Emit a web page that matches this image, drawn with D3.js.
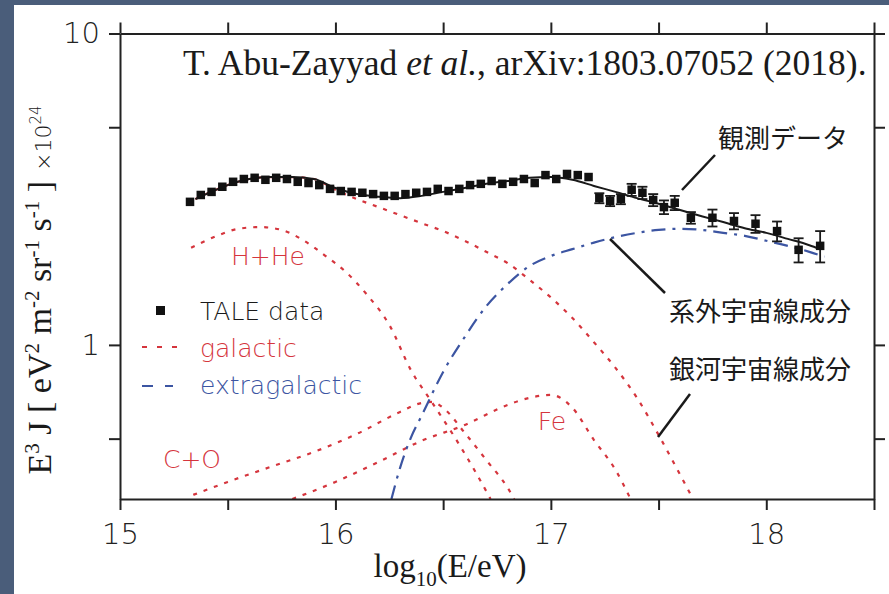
<!DOCTYPE html>
<html>
<head>
<meta charset="utf-8">
<script src="https://cdn.jsdelivr.net/npm/d3@7"></script>
<style>
  html, body { margin: 0; padding: 0; background: #4a5d7a; }
  svg { display: block; }
</style>
</head>
<body>
<svg id="chart" width="889" height="594"></svg>
<script>
// ---- TALE measured spectrum (log10 E, E^3 J in units of 1e24, symmetric error) ----
const taleLogE = [15.325, 15.375, 15.425, 15.475, 15.525, 15.575, 15.625, 15.675, 15.725, 15.775,
  15.825, 15.875, 15.925, 15.975, 16.025, 16.075, 16.125, 16.175, 16.225, 16.275,
  16.325, 16.375, 16.425, 16.475, 16.525, 16.575, 16.625, 16.675, 16.725, 16.775,
  16.825, 16.875, 16.925, 16.975, 17.025, 17.075, 17.125, 17.175, 17.225, 17.275,
  17.325, 17.375, 17.425, 17.475, 17.525, 17.575, 17.65, 17.75, 17.85, 17.95,
  18.05, 18.15, 18.25];
const taleFlux = [2.88, 3.03, 3.10, 3.22, 3.34, 3.41, 3.44, 3.39, 3.44, 3.41,
  3.34, 3.31, 3.26, 3.17, 3.12, 3.10, 3.08, 3.05, 3.01, 3.01,
  3.05, 3.08, 3.10, 3.17, 3.12, 3.17, 3.26, 3.29, 3.36, 3.29,
  3.34, 3.41, 3.31, 3.51, 3.41, 3.54, 3.51, 3.46, 2.96, 2.90,
  2.94, 3.15, 3.08, 2.92, 2.77, 2.86, 2.56, 2.56, 2.50, 2.45,
  2.32, 2.02, 2.08];
const taleErr = [0, 0, 0, 0, 0, 0, 0, 0, 0, 0,
  0, 0, 0, 0, 0, 0, 0, 0, 0, 0,
  0, 0, 0, 0, 0, 0, 0, 0, 0, 0,
  0, 0, 0, 0, 0, 0, 0, 0, 0.11, 0.11,
  0.11, 0.14, 0.14, 0.13, 0.14, 0.15, 0.11, 0.16, 0.15, 0.16,
  0.17, 0.18, 0.24];

// ---- Model curves ----
const totalLogE = [15.35, 15.4, 15.5, 15.6, 15.7, 15.8, 15.9, 16.0, 16.1, 16.2, 16.3, 16.4, 16.5,
  16.6, 16.7, 16.8, 16.9, 17.0, 17.1, 17.2, 17.3, 17.4, 17.5, 17.6, 17.7, 17.8, 17.9,
  18.0, 18.1, 18.2, 18.25];
const totalFlux = [2.94, 3.05, 3.26, 3.41, 3.46, 3.46, 3.41, 3.19, 3.05, 2.99, 2.96, 3.01, 3.10,
  3.19, 3.29, 3.36, 3.44, 3.46, 3.39, 3.24, 3.10, 2.96, 2.84, 2.71, 2.59, 2.48, 2.37,
  2.29, 2.19, 2.09, 2.03];

const galacticLogE = [15.35, 15.4, 15.5, 15.6, 15.7, 15.8, 15.9, 16.0, 16.1, 16.2, 16.3, 16.4, 16.5,
  16.6, 16.7, 16.8, 16.9, 17.0, 17.1, 17.2, 17.3, 17.4, 17.5, 17.6, 17.66];
const galacticFlux = [2.94, 3.05, 3.26, 3.41, 3.46, 3.46, 3.41, 3.15, 2.94, 2.77, 2.61, 2.46, 2.32,
  2.16, 1.99, 1.83, 1.62, 1.42, 1.22, 1.02, 0.844, 0.676, 0.514, 0.383, 0.320];

const hHeLogE = [15.33, 15.45, 15.55, 15.65, 15.75, 15.85, 15.95, 16.05, 16.15, 16.25, 16.35,
  16.45, 16.55, 16.65, 16.72];
const hHeFlux = [2.05, 2.24, 2.36, 2.39, 2.34, 2.17, 1.94, 1.71, 1.44, 1.16, 0.831,
  0.651, 0.510, 0.391, 0.320];

const coLogE = [15.34, 15.5, 15.7, 15.9, 16.1, 16.3, 16.4, 16.45, 16.5, 16.6, 16.7, 16.8, 16.83];
const coFlux = [0.330, 0.363, 0.406, 0.453, 0.518, 0.609, 0.651, 0.656, 0.628, 0.522, 0.427, 0.347, 0.320];

const feLogE = [15.80, 16.0, 16.2, 16.4, 16.6, 16.8, 16.9, 17.0, 17.1, 17.2, 17.3, 17.37];
const feFlux = [0.320, 0.363, 0.421, 0.492, 0.553, 0.642, 0.676, 0.691, 0.628, 0.495, 0.397, 0.320];

const extraLogE = [16.26, 16.3, 16.35, 16.4, 16.5, 16.6, 16.7, 16.8, 16.9, 17.0, 17.1, 17.2,
  17.3, 17.4, 17.5, 17.6, 17.7, 17.8, 17.9, 18.0, 18.1, 18.2, 18.27];
const extraFlux = [0.320, 0.403, 0.503, 0.592, 0.819, 1.06, 1.33, 1.57, 1.79, 1.93, 2.03, 2.13,
  2.22, 2.29, 2.34, 2.36, 2.34, 2.29, 2.24, 2.16, 2.08, 1.99, 1.92];

// ---- Axis ticks ----
const xTicks = [15, 15.5, 16, 16.5, 17, 17.5, 18, 18.5];
const xTickLabels = [15, 16, 17, 18];
const yTicks = [0.5, 1, 5, 10];
const yTickLabels = [1, 10];

// ---- Text ----
const citation = ["T. Abu-Zayyad ", "et al.", ", arXiv:1803.07052 (2018)."];
const legendItems = ["TALE data", "galactic", "extragalactic"];
const componentLabels = ["H+He", "C+O", "Fe"];
const notes = ["観測データ", "系外宇宙線成分", "銀河宇宙線成分"];

// ---- Styling ----
const RED = "#d5353d";
const BLUE = "#3c55a2";
const INK = "#1a1a1a";
const SANS = "'DejaVu Sans', Lato, sans-serif";
const SERIF = "'Liberation Serif', 'DejaVu Serif', serif";
const CJK = "'Noto Sans CJK JP', sans-serif";

const svg = d3.select("#chart");
const W = 889, H = 594;

// slate backdrop and white sheet
svg.append("rect").attr("width", W).attr("height", H).attr("fill", "#4a5d7a");
svg.append("rect").attr("x", 14).attr("y", 5).attr("width", W - 14).attr("height", H - 5).attr("fill", "#ffffff");

const plot = { left: 120, right: 874, top: 33.5, bottom: 499 };
const x = d3.scaleLinear().domain([15, 18.5]).range([plot.left, plot.right]);
const y = d3.scaleLog().domain([0.32, 10]).range([plot.bottom, plot.top]);

svg.append("clipPath").attr("id", "plotClip")
  .append("rect")
  .attr("x", plot.left).attr("y", plot.top)
  .attr("width", plot.right - plot.left).attr("height", plot.bottom - plot.top);

const zip = (xs, ys) => xs.map((v, i) => [v, ys[i]]);
const line = d3.line().x(d => x(d[0])).y(d => y(d[1])).curve(d3.curveMonotoneX);

const curves = svg.append("g").attr("clip-path", "url(#plotClip)");

// galactic components (dotted red)
[[hHeLogE, hHeFlux], [coLogE, coFlux], [feLogE, feFlux], [galacticLogE, galacticFlux]].forEach(([xs, ys]) => {
  curves.append("path")
    .datum(zip(xs, ys))
    .attr("d", line)
    .attr("fill", "none")
    .attr("stroke", RED)
    .attr("stroke-width", 2.2)
    .attr("stroke-dasharray", "4,7");
});

// extragalactic component (dash-dot blue)
curves.append("path")
  .datum(zip(extraLogE, extraFlux))
  .attr("d", line)
  .attr("fill", "none")
  .attr("stroke", BLUE)
  .attr("stroke-width", 2.2)
  .attr("stroke-dasharray", "14,7,3,7");

// total model (solid black)
curves.append("path")
  .datum(zip(totalLogE, totalFlux))
  .attr("d", line)
  .attr("fill", "none")
  .attr("stroke", INK)
  .attr("stroke-width", 2);

// TALE points with error bars
const pts = svg.append("g");
const tale = taleLogE.map((e, i) => ({ e, f: taleFlux[i], err: taleErr[i] }));
const withErr = tale.filter(d => d.err > 0);
pts.selectAll("line.err").data(withErr).join("line")
  .attr("x1", d => x(d.e)).attr("x2", d => x(d.e))
  .attr("y1", d => y(d.f - d.err)).attr("y2", d => y(d.f + d.err))
  .attr("stroke", INK).attr("stroke-width", 1.8);
[-1, 1].forEach(s => {
  pts.selectAll("line.cap" + (s > 0 ? "h" : "l")).data(withErr).join("line")
    .attr("x1", d => x(d.e) - 5).attr("x2", d => x(d.e) + 5)
    .attr("y1", d => y(d.f + s * d.err)).attr("y2", d => y(d.f + s * d.err))
    .attr("stroke", INK).attr("stroke-width", 1.8);
});
const SQ = 8.5;
pts.selectAll("rect").data(tale).join("rect")
  .attr("x", d => x(d.e) - SQ / 2).attr("y", d => y(d.f) - SQ / 2)
  .attr("width", SQ).attr("height", SQ)
  .attr("fill", "#111");

// ---- Axes ----
function styleAxis(g) {
  g.selectAll("path.domain").attr("stroke", "#222").attr("stroke-width", 2);
  g.selectAll(".tick line").attr("stroke", "#222").attr("stroke-width", 2);
  g.selectAll(".tick text").attr("fill", "#222")
    .style("font-family", SANS).style("font-weight", 200).style("font-size", "29px");
}
const fmtX = d => xTickLabels.includes(d) ? String(d) : "";
const fmtY = d => yTickLabels.includes(d) ? String(d) : "";

svg.append("g").attr("transform", `translate(0,${plot.bottom})`)
  .call(d3.axisBottom(x).tickValues(xTicks).tickFormat(fmtX).tickSize(11).tickSizeOuter(0).tickPadding(13))
  .call(styleAxis);
svg.append("g").attr("transform", `translate(0,${plot.top})`)
  .call(d3.axisTop(x).tickValues(xTicks).tickFormat("").tickSize(11).tickSizeOuter(0))
  .call(styleAxis);
svg.append("g").attr("transform", `translate(${plot.left},0)`)
  .call(d3.axisLeft(y).tickValues(yTicks).tickFormat(fmtY).tickSize(11).tickSizeOuter(0).tickPadding(9))
  .call(styleAxis);
svg.append("g").attr("transform", `translate(${plot.right},0)`)
  .call(d3.axisRight(y).tickValues(yTicks).tickFormat("").tickSize(11).tickSizeOuter(0))
  .call(styleAxis);

// ---- Axis titles ----
const xt = svg.append("text")
  .attr("x", 450).attr("y", 577)
  .attr("text-anchor", "middle")
  .attr("fill", INK)
  .style("font-family", SERIF).style("font-size", "33px");
xt.append("tspan").text("log");
xt.append("tspan").attr("dy", 9).style("font-size", "21px").text("10");
xt.append("tspan").attr("dy", -9).text("(E/eV)");

const yt = svg.append("text")
  .attr("transform", "translate(51,290) rotate(-90)")
  .attr("text-anchor", "middle")
  .attr("fill", INK)
  .style("font-family", SERIF).style("font-size", "34px");
const yParts = [
  ["E", 0], ["3", 1], [" J [ eV", 0], ["2", 1], [" m", 0], ["-2", 1],
  [" sr", 0], ["-1", 1], [" s", 0], ["-1", 1], [" ]", 0]
];
let lift = 0;
yParts.forEach(([t, sup]) => {
  const want = sup ? -12 : 0;
  yt.append("tspan").attr("dy", want - lift)
    .style("font-size", sup ? "21px" : "34px").text(t);
  lift = want;
});
yt.append("tspan").attr("dy", -lift).attr("dx", 10)
  .style("font-family", SANS).style("font-weight", 200).style("font-size", "22px").text("×10");
yt.append("tspan").attr("dy", -10)
  .style("font-family", SANS).style("font-weight", 200).style("font-size", "15px").text("24");

// ---- Citation ----
const cit = svg.append("text")
  .attr("x", 183).attr("y", 75)
  .attr("fill", INK)
  .style("font-family", SERIF).style("font-size", "35.5px");
cit.append("tspan").text(citation[0]);
cit.append("tspan").style("font-style", "italic").text(citation[1]);
cit.append("tspan").text(citation[2]);

// ---- Legend ----
const legend = svg.append("g").style("font-family", SANS).style("font-size", "25px");
legend.append("rect").attr("x", 156).attr("y", 306).attr("width", 9).attr("height", 9).attr("fill", "#111");
legend.append("line").attr("x1", 142).attr("x2", 180).attr("y1", 347).attr("y2", 347)
  .attr("stroke", RED).attr("stroke-width", 2.2).attr("stroke-dasharray", "5,10");
legend.append("line").attr("x1", 142).attr("x2", 173).attr("y1", 386).attr("y2", 386)
  .attr("stroke", BLUE).attr("stroke-width", 2.2).attr("stroke-dasharray", "11,12,8,40");
[[legendItems[0], 311, INK], [legendItems[1], 348, RED], [legendItems[2], 385, BLUE]].forEach(([t, yy, c]) => {
  legend.append("text").attr("x", 200).attr("y", yy).attr("dy", "0.35em")
    .attr("fill", c).style("font-weight", 200).text(t);
});

// ---- Component labels ----
const comp = svg.append("g").style("font-family", SANS).style("font-size", "25px")
  .style("font-weight", 200).attr("fill", RED).attr("text-anchor", "middle");
comp.append("text").attr("x", 268).attr("y", 256).attr("dy", "0.35em").text(componentLabels[0]);
comp.append("text").attr("x", 192).attr("y", 459).attr("dy", "0.35em").text(componentLabels[1]);
comp.append("text").attr("x", 552).attr("y", 421).attr("dy", "0.35em").text(componentLabels[2]);

// ---- Japanese annotations with leader lines ----
const ann = svg.append("g");
const annText = ann.append("g").style("font-family", CJK).style("font-size", "26px").attr("fill", INK);
annText.append("text").attr("x", 718).attr("y", 139).attr("dy", "0.35em").text(notes[0]);
annText.append("text").attr("x", 669).attr("y", 312).attr("dy", "0.35em").text(notes[1]);
annText.append("text").attr("x", 669).attr("y", 370).attr("dy", "0.35em").text(notes[2]);
const leaders = [
  [[682, 190], [715, 155]],
  [[610, 239], [665, 293]],
  [[658, 437], [690, 394]]
];
leaders.forEach(([a, b]) => {
  ann.append("line").attr("x1", a[0]).attr("y1", a[1]).attr("x2", b[0]).attr("y2", b[1])
    .attr("stroke", INK).attr("stroke-width", 2.5);
});
</script>
</body>
</html>
